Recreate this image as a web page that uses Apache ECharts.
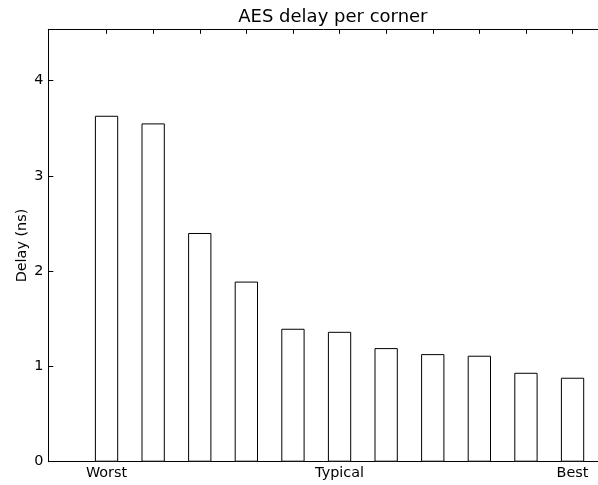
<!DOCTYPE html>
<html>
<head>
<meta charset="utf-8">
<script src="https://cdn.jsdelivr.net/npm/echarts@6/dist/echarts.min.js"></script>
<style>
  html, body { margin: 0; padding: 0; background: #fff; }
  #chart { width: 598px; height: 485px; }
</style>
</head>
<body>
<div id="chart"></div>
<script>
// Delay of the AES block at each process corner, worst to best
const corners = [0, 1, 2, 3, 4, 5, 6, 7, 8, 9, 10];
const delays = [3.63, 3.55, 2.40, 1.89, 1.395, 1.363, 1.192, 1.129, 1.112, 0.933, 0.881];
const cornerLabels = { 0: 'Worst', 5: 'Typical', 10: 'Best' };
const labelPositions = [0, 5, 10];
const yTicks = [0, 1, 2, 3, 4];

const FONT = 'DejaVu Sans';
const gridLeft = 48.3, gridTop = 29.3, gridHeight = 432.4;
const unit = 46.6;                       // pixels per corner slot
const xMin = -1.25, xMax = 10.75;
const gridWidth = unit * (xMax - xMin);  // the right spine falls just past the canvas edge
const yMax = Math.max(...delays) * 1.25;

const chart = echarts.init(document.getElementById('chart'), null, { renderer: 'canvas' });

const spine = { show: true, onZero: false, lineStyle: { color: '#000', width: 1 } };

chart.setOption({
  animation: false,
  backgroundColor: '#fff',
  title: {
    text: 'AES delay per corner',
    left: gridLeft + gridWidth / 2,
    textAlign: 'center',
    top: 3.5,
    textStyle: { fontFamily: FONT, fontWeight: 'normal', fontSize: 18, color: '#000' }
  },
  grid: {
    left: gridLeft, top: gridTop, width: gridWidth, height: gridHeight,
    containLabel: false, outerBoundsMode: 'none'
  },
  xAxis: [{
    type: 'value', position: 'bottom', min: xMin, max: xMax,
    axisLine: spine,
    splitLine: { show: false },
    axisTick: { show: true, inside: true, length: 4.5, customValues: corners, lineStyle: { color: '#000' } },
    axisLabel: {
      show: true, customValues: labelPositions, margin: 5,
      fontFamily: FONT, fontSize: 14.4, color: '#000',
      formatter: v => cornerLabels[Math.round(v)] || ''
    }
  }, {
    type: 'value', position: 'top', min: xMin, max: xMax,
    axisLine: spine,
    splitLine: { show: false },
    axisTick: { show: true, inside: true, length: 4.5, customValues: corners, lineStyle: { color: '#000' } },
    axisLabel: { show: false }
  }],
  yAxis: {
    type: 'value', min: 0, max: yMax,
    name: 'Delay (ns)', nameLocation: 'middle', nameGap: 19, nameRotate: 90,
    nameMoveOverlap: false,
    nameTextStyle: { fontFamily: FONT, fontSize: 14.4, color: '#000' },
    axisLine: spine,
    splitLine: { show: false },
    axisTick: { show: true, inside: true, length: 5, customValues: yTicks, lineStyle: { color: '#000' } },
    axisLabel: { show: true, customValues: yTicks, margin: 5, fontFamily: FONT, fontSize: 14.4, color: '#000' }
  },
  series: [{
    type: 'bar',
    xAxisIndex: 0,
    data: corners.map((c, i) => [c, delays[i]]),
    barWidth: unit * 0.5,
    itemStyle: { color: '#fff', borderColor: '#000', borderWidth: 1 },
    z: 1
  }]
});
</script>
</body>
</html>
